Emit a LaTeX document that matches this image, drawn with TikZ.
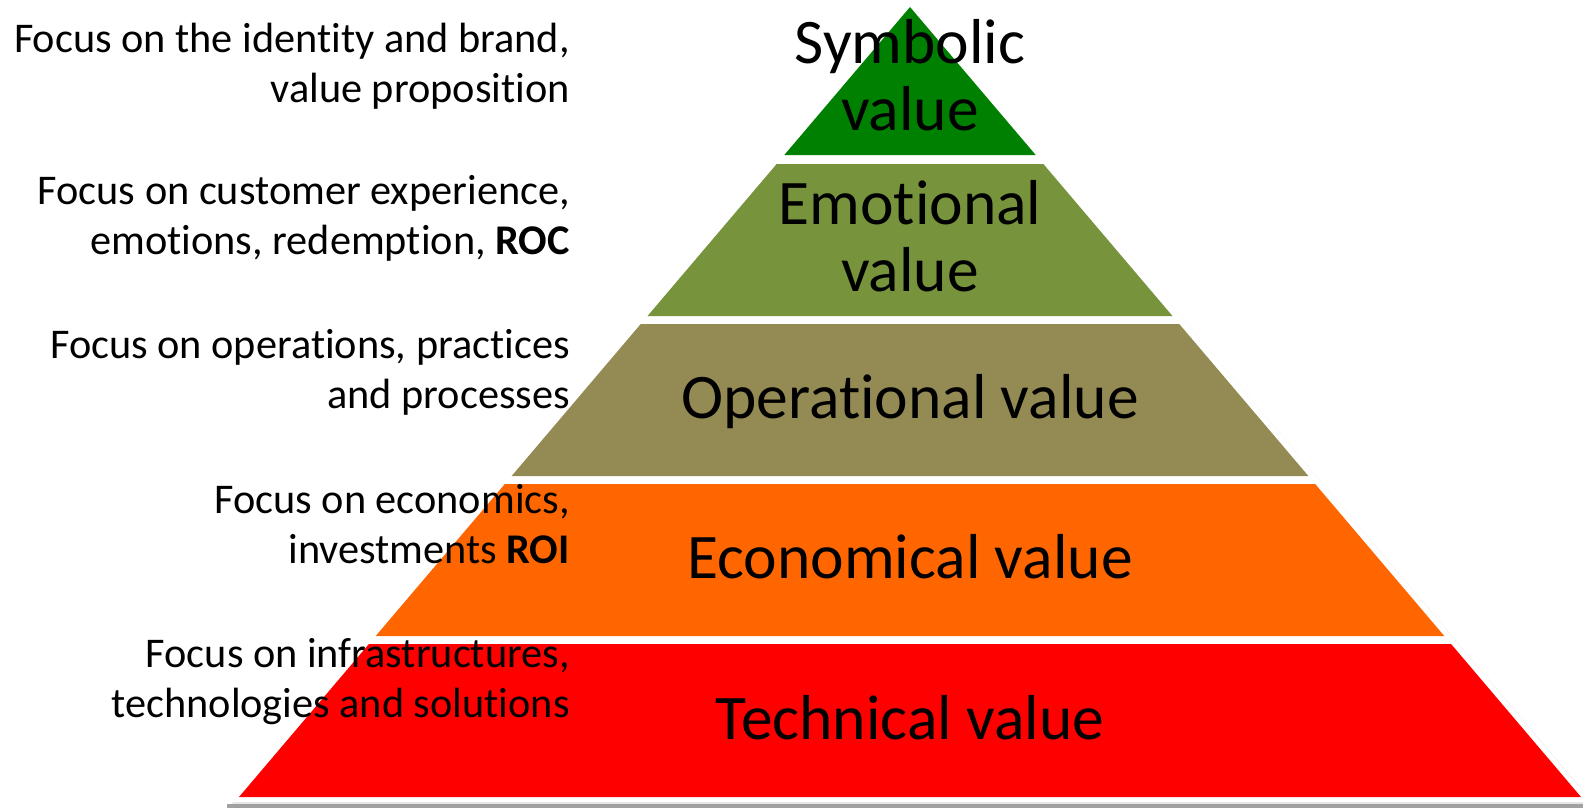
\documentclass[tikz,border=0pt]{standalone}
\usepackage{fontspec}
\setmainfont[Ligatures={NoCommon}]{Carlito}
\usetikzlibrary{positioning, calc}
\definecolor{symbgreen}{HTML}{008000}
\definecolor{emogreen}{HTML}{77933C}
\definecolor{opertan}{HTML}{948A54}
\definecolor{econorange}{HTML}{FF6600}
\definecolor{techred}{HTML}{FF0000}
\newcommand{\LayerFont}{\fontsize{63.5}{67}\selectfont}
\newcommand{\FocusFont}{\fontsize{42.3}{50}\selectfont}
\tikzset{
    layertext/.style={font=\LayerFont, align=center, inner sep=0pt, anchor=base},
    focus/.style={font=\FocusFont, align=right, inner sep=0pt, anchor=base east},
    rim/.style={fill=white},
}

\begin{document}
\begin{tikzpicture}[x=1pt, y=-1pt]
    \tikzset{
      every node/.append style={text=black}
    }
    \useasboundingbox (0,0) rectangle (1583,807);

    % shadow and white rim
    \fill[black!10] (912,-1) -- (1596,806) -- (230,806) -- cycle;
    \fill[black!37] (227,803.5) rectangle (1596,812);
    \fill[rim] (910,-4) -- (1592,802) -- (228,802) -- cycle;

    % the five layers
    \foreach \ytop/\ybot/\col in {7/155/symbgreen, 164/316/emogreen, 324/476/opertan, 484/636/econorange, 644/797/techred}{
      \pgfmathsetmacro{\wt}{0.8494*(\ytop-7)}
      \pgfmathsetmacro{\wb}{0.8494*(\ybot-7)}
      \fill[\col] (910-\wt,\ytop) -- (910+\wt,\ytop) -- (910+\wb,\ybot) -- (910-\wb,\ybot) -- cycle;
    }

    % base = last line
    \node[layertext] (sym) at (910,130) {Symbolic\\value};
    \node[layertext] (emo) at (910,291) {Emotional\\value};
    \node[layertext] (oper) at (910,418) {Operational value};
    \node[layertext] (econ) at (910,578) {Economical value};
    \node[layertext] (tech) at (910,739) {Technical value};

    \node[focus] (symF) at (570,102) {Focus on the identity and brand,\\value proposition};
    \node[focus] (emoF) at (570,254) {Focus on customer experience,\\emotions, redemption, \textbf{ROC}};
    \node[focus] (operF) at (570,408) {Focus on operations, practices\\and processes};
    \node[focus] (econF) at (570,563) {Focus on economics,\\investments \textbf{ROI}};
    \node[focus] (techF) at (570,717) {Focus on infrastructures,\\technologies and solutions};

\end{tikzpicture}
\end{document}
